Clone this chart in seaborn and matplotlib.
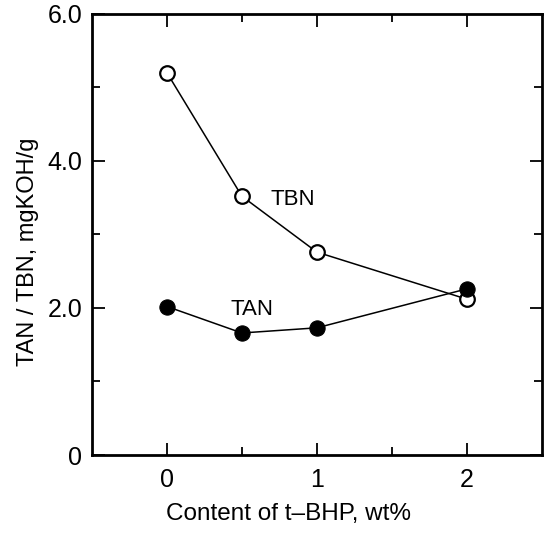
import numpy as np
import pandas as pd
import matplotlib
matplotlib.use("Agg")
import matplotlib.pyplot as plt
from matplotlib.ticker import MultipleLocator, FixedLocator
import seaborn as sns

content = [0, 0.5, 1, 2]
tbn = [5.2, 3.52, 2.76, 2.12]
tan = [2.02, 1.66, 1.73, 2.26]

sns.set_style("ticks")
plt.rcParams["font.family"] = ["Liberation Sans", "DejaVu Sans"]
plt.rcParams["text.color"] = "black"
plt.rcParams["axes.labelcolor"] = "black"

df = pd.DataFrame({"content": content * 2,
                   "value": tbn + tan,
                   "kind": ["TBN"] * 4 + ["TAN"] * 4})

fig = plt.figure(figsize=(5.44, 5.35), dpi=100)
ax = fig.add_axes([0.169, 0.1495, 0.827, 0.8245])

d = df[df.kind == "TBN"]
sns.lineplot(data=d, x="content", y="value", ax=ax, color="black", lw=1.1,
             marker="o", markersize=10.5, markerfacecolor="white",
             markeredgecolor="black", markeredgewidth=1.6)
d = df[df.kind == "TAN"]
sns.lineplot(data=d, x="content", y="value", ax=ax, color="black", lw=1.1,
             marker="o", markersize=11, markerfacecolor="black",
             markeredgecolor="black")

ax.text(0.84, 3.48, "TBN", fontsize=16, ha="center", va="center")
ax.text(0.57, 1.98, "TAN", fontsize=16, ha="center", va="center")

ax.set_xlim(-0.5, 2.5)
ax.set_ylim(0, 6)
ax.xaxis.set_major_locator(FixedLocator([0, 1, 2]))
ax.xaxis.set_minor_locator(FixedLocator([0.5, 1.5]))
ax.yaxis.set_minor_locator(MultipleLocator(1))
ax.set_yticks([0, 2, 4, 6])
ax.set_yticklabels(["0", "2.0", "4.0", "6.0"])
ax.tick_params(which="both", direction="in", top=True, right=True,
               labelsize=18, width=1.3, pad=7, colors="black")
ax.tick_params(axis="x", pad=9)
ax.tick_params(which="major", length=9)
ax.tick_params(which="minor", length=6)
for s in ax.spines.values():
    s.set_linewidth(2)
    s.set_color("black")

ax.set_xlabel("Content of t\u2013BHP, wt%", fontsize=17.5)
ax.set_ylabel("TAN / TBN, mgKOH/g", fontsize=17)
ax.xaxis.set_label_coords(0.438, -0.108)
ax.yaxis.set_label_coords(-0.118, 0.46)

fig.savefig("out.png", dpi=100)
